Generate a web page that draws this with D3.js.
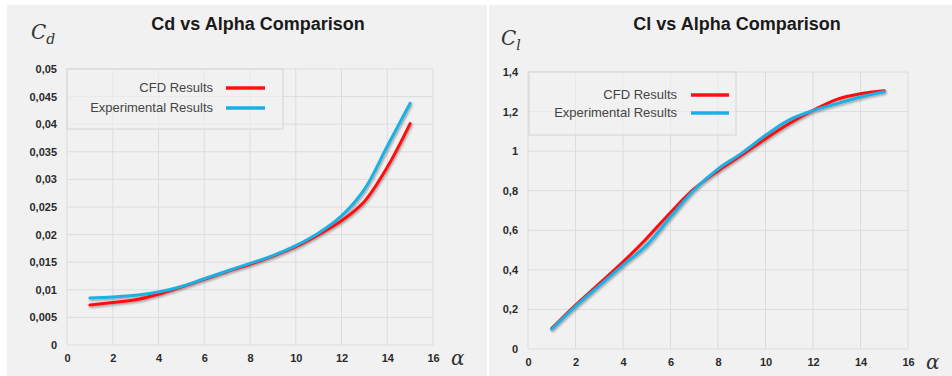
<!DOCTYPE html>
<html>
<head>
<meta charset="utf-8">
<script src="https://cdn.jsdelivr.net/npm/d3@7"></script>
<style>
  body { margin: 0; background: #fff; }
  svg { display: block; }
</style>
</head>
<body>
<svg id="chart" width="952" height="376"></svg>
<script>
var alpha = [1, 2, 3, 4, 5, 6, 7, 8, 9, 10, 11, 12, 13, 14, 15]

var cdCFD = [0.00725, 0.0077, 0.0082, 0.0092, 0.0105, 0.0119, 0.0133, 0.0146, 0.0161, 0.0178, 0.0200, 0.0225, 0.0260, 0.0322, 0.0401]
var cdExp = [0.0085, 0.0087, 0.009, 0.0096, 0.0106, 0.012, 0.0134, 0.0148, 0.0162, 0.018, 0.0203, 0.0234, 0.0282, 0.0360, 0.0438]

var clCFD = [0.104, 0.222, 0.33, 0.44, 0.56, 0.69, 0.81, 0.9, 0.98, 1.063, 1.14, 1.206, 1.262, 1.29, 1.305]
var clExp = [0.1, 0.215, 0.32, 0.424, 0.525, 0.668, 0.805, 0.91, 0.99, 1.08, 1.158, 1.205, 1.24, 1.274, 1.3]

var xTicks = [0, 2, 4, 6, 8, 10, 12, 14, 16]
var cdTicks = [0, 0.005, 0.01, 0.015, 0.02, 0.025, 0.03, 0.035, 0.04, 0.045, 0.05]
var clTicks = [0, 0.2, 0.4, 0.6, 0.8, 1, 1.2, 1.4]

var seriesNames = ["CFD Results", "Experimental Results"]
var seriesColors = ["#ff1010", "#1ab0e6"]

var svg = d3.select("#chart")

// soft shadow under the curves
var defs = svg.append("defs")
var filt = defs.append("filter").attr("id", "shadow").attr("x", "-5%").attr("y", "-5%").attr("width", "110%").attr("height", "110%")
filt.append("feDropShadow").attr("dx", 1).attr("dy", 1.5).attr("stdDeviation", 1).attr("flood-color", "#000").attr("flood-opacity", 0.35)

function fmt(v) {
    return String(+v.toFixed(4)).replace(".", ",")
}

function drawPanel(cfg) {
    var g = svg.append("g")

    g.append("rect")
        .attr("x", cfg.panel[0]).attr("y", cfg.panel[1])
        .attr("width", cfg.panel[2]).attr("height", cfg.panel[3])
        .attr("fill", "#f1f1f1")

    var xScale = d3.scaleLinear().domain([0, 16]).range([cfg.left, cfg.right])
    var yScale = d3.scaleLinear().domain([0, cfg.yMax]).range([cfg.bottom, cfg.top])

    // grid
    g.append("g").selectAll("line").data(xTicks).enter().append("line")
        .attr("x1", d => xScale(d)).attr("x2", d => xScale(d))
        .attr("y1", cfg.top).attr("y2", cfg.bottom)
        .attr("stroke", "#dcdcdc").attr("stroke-width", 1)
    g.append("g").selectAll("line").data(cfg.yTicks).enter().append("line")
        .attr("x1", cfg.left).attr("x2", cfg.right)
        .attr("y1", d => yScale(d)).attr("y2", d => yScale(d))
        .attr("stroke", "#dcdcdc").attr("stroke-width", 1)

    // axes (labels only)
    var xAxis = d3.axisBottom(xScale).tickValues(xTicks).tickSize(0).tickPadding(9)
    var yAxis = d3.axisLeft(yScale).tickValues(cfg.yTicks).tickSize(0).tickPadding(10).tickFormat(fmt)

    var gx = g.append("g").attr("transform", "translate(0," + cfg.bottom + ")").call(xAxis)
    var gy = g.append("g").attr("transform", "translate(" + cfg.left + ",0)").call(yAxis)
    ;[gx, gy].forEach(function(a) {
        a.select(".domain").remove()
        a.selectAll("text")
            .style("font-family", "Arial, 'Liberation Sans', sans-serif")
            .style("font-size", "11px")
            .style("font-weight", "bold")
            .attr("fill", "#2a2a2a")
    })

    // legend box
    g.append("rect")
        .attr("x", cfg.legend[0]).attr("y", cfg.legend[1])
        .attr("width", cfg.legend[2]).attr("height", cfg.legend[3])
        .attr("fill", "#f1f1f1").attr("fill-opacity", 0.6)
        .attr("stroke", "#d4d4d4").attr("stroke-width", 1)

    seriesNames.forEach(function(name, i) {
        var ly = cfg.legendRows[i]
        g.append("text")
            .attr("x", cfg.legendTextX).attr("y", ly)
            .attr("text-anchor", "end").attr("dominant-baseline", "middle")
            .style("font-family", "Arial, 'Liberation Sans', sans-serif")
            .style("font-size", "13px")
            .attr("fill", "#444")
            .text(name)
        g.append("line")
            .attr("x1", cfg.legendLine[0]).attr("x2", cfg.legendLine[1])
            .attr("y1", ly - 1).attr("y2", ly - 1)
            .attr("stroke", seriesColors[i]).attr("stroke-width", 3.5)
    })

    // curves
    var line = d3.line()
        .x((d, i) => xScale(alpha[i]))
        .y(d => yScale(d))
        .curve(d3.curveCatmullRom.alpha(0.5))

    var lines = g.append("g").attr("filter", "url(#shadow)")
    cfg.series.forEach(function(vals, i) {
        lines.append("path")
            .datum(vals)
            .attr("d", line)
            .attr("fill", "none")
            .attr("stroke", seriesColors[i])
            .attr("stroke-width", 3)
            .attr("stroke-linecap", "round")
    })

    // title
    g.append("text")
        .attr("x", cfg.titleX).attr("y", 30)
        .attr("text-anchor", "middle")
        .style("font-family", "Arial, 'Liberation Sans', sans-serif")
        .style("font-size", "18px")
        .style("font-weight", "bold")
        .attr("fill", "#1a1a1a")
        .text(cfg.title)

    // y label  C_d / C_l
    var yl = g.append("text")
        .attr("x", cfg.yLabel[0]).attr("y", cfg.yLabel[1])
        .style("font-family", "'DejaVu Serif', 'Liberation Serif', serif")
        .style("font-style", "italic")
        .style("font-size", "20px")
        .attr("fill", "#333")
    yl.append("tspan").text("C")
    yl.append("tspan").attr("dy", 5).style("font-size", "14px").text(cfg.sub)

    // x label alpha
    g.append("text")
        .attr("x", cfg.alphaPos[0]).attr("y", cfg.alphaPos[1])
        .style("font-family", "'DejaVu Serif', 'Liberation Serif', serif")
        .style("font-style", "italic")
        .style("font-size", "20px")
        .attr("fill", "#333")
        .text("α")
}

drawPanel({
    panel: [7, 5, 480, 371],
    left: 67, right: 433, top: 69, bottom: 345,
    yMax: 0.05, yTicks: cdTicks,
    series: [cdCFD, cdExp],
    legend: [67, 69, 216, 60],
    legendRows: [89, 109],
    legendTextX: 213,
    legendLine: [226, 265],
    title: "Cd vs Alpha Comparison",
    titleX: 258,
    yLabel: [31, 39], sub: "d",
    alphaPos: [451, 365]
})

drawPanel({
    panel: [489, 5, 463, 371],
    left: 528, right: 908, top: 72, bottom: 349,
    yMax: 1.4, yTicks: clTicks,
    series: [clCFD, clExp],
    legend: [529, 72, 207, 63],
    legendRows: [96, 114],
    legendTextX: 677,
    legendLine: [691, 729],
    title: "Cl vs Alpha Comparison",
    titleX: 737,
    yLabel: [501, 45], sub: "l",
    alphaPos: [926, 369]
})
</script>
</body>
</html>
